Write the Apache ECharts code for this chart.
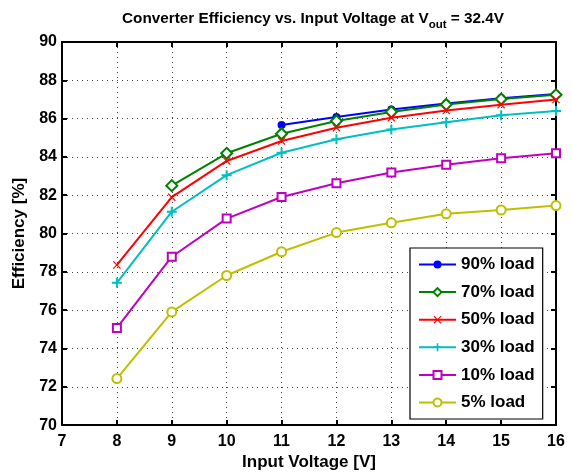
<!DOCTYPE html>
<html><head><meta charset="utf-8">
<script src="https://cdn.jsdelivr.net/npm/echarts@6/dist/echarts.min.js"></script>
<style>html,body{margin:0;padding:0;background:#fff}#c{width:572px;height:476px}</style>
</head><body><div id="c"></div>
<script>
const seriesNames = ['90% load','70% load','50% load','30% load','10% load','5% load'];
const xStart = [11, 9, 8, 8, 8, 8];
const load90 = [85.67, 86.09, 86.48, 86.79, 87.07, 87.29];
const load70 = [82.5, 84.19, 85.21, 85.88, 86.35, 86.74, 87.02, 87.24];
const load50 = [78.36, 81.9, 83.79, 84.83, 85.52, 86.04, 86.42, 86.73, 87.0];
const load30 = [77.43, 81.14, 83.05, 84.22, 84.92, 85.43, 85.81, 86.17, 86.4];
const load10 = [75.07, 78.79, 80.78, 81.91, 82.63, 83.19, 83.59, 83.93, 84.19];
const load5  = [72.43, 75.91, 77.81, 79.05, 80.05, 80.56, 81.03, 81.23, 81.46];
const allValues = [load90, load70, load50, load30, load10, load5];

const colors = ['#0000ff','#008000','#ff0000','#00bfbf','#bf00bf','#bfbf00'];
const xPath = 'path://M1,0L5,4L9,0L10,1L6,5L10,9L9,10L5,6L1,10L0,9L4,5L0,1Z';
const plusPath = 'path://M4,0H6V4H10V6H6V10H4V6H0V4H4Z';
const symbols = ['circle','emptyDiamond',xPath,plusPath,'emptyRect','emptyCircle'];
const symSizes = [8, 11, 8, 10, 8, 9];
const FONT = 'Liberation Sans, Arial, Helvetica, sans-serif';

const chart = echarts.init(document.getElementById('c'));
const series = allValues.map((vals, i) => ({
  name: seriesNames[i],
  type: 'line',
  data: vals.map((v, k) => [xStart[i] + k, v]),
  symbol: symbols[i],
  symbolSize: symSizes[i],
  showAllSymbol: true,
  lineStyle: { color: colors[i], width: 2 },
  itemStyle: { color: colors[i], borderColor: colors[i], borderWidth: (i===1||i===4||i===5)?2:0 },
  emphasis: { disabled: true },
  animation: false,
  z: 3 + i
}));

const axisCommon = {
  type: 'value',
  axisLine: { show: true, onZero: false, lineStyle: { color: '#000', width: 2 } },
  axisTick: { show: true, inside: true, length: 5, lineStyle: { color: '#000', width: 2 } },
};

chart.setOption({
  animation: false,
  backgroundColor: '#fff',
  title: {
    text: '{a|Converter Efficiency vs. Input Voltage at V}{s|out}{a| = 32.4V}',
    left: 308, top: 6, textAlign: 'center',
    textStyle: {
      rich: {
        a: { fontFamily: FONT, fontWeight: 'bold', fontSize: 15.3, color: '#000', lineHeight: 24, verticalAlign: 'top' },
        s: { fontFamily: FONT, fontWeight: 'bold', fontSize: 11.5, color: '#000', lineHeight: 24, verticalAlign: 'top', padding: [8,0,0,0] }
      }
    }
  },
  grid: { left: 62, right: 16, top: 42, bottom: 48, containLabel: false },
  legend: {
    orient: 'vertical', left: 410, top: 248,
    backgroundColor: '#fff', borderColor: '#000', borderWidth: 1.2,
    padding: [8, 8, 8, 8], itemWidth: 37, itemHeight: 10, itemGap: 10.6,
    textStyle: { fontFamily: FONT, fontWeight: 'bold', fontSize: 17, color: '#000' },
    data: seriesNames
  },
  xAxis: [
    Object.assign({}, axisCommon, {
      min: 7, max: 16, interval: 1, position: 'bottom',
      name: 'Input Voltage [V]', nameLocation: 'middle', nameGap: 25,
      nameTextStyle: { fontFamily: FONT, fontWeight: 'bold', fontSize: 17, color: '#000' },
      axisLabel: { fontFamily: FONT, fontWeight: 'bold', fontSize: 16, color: '#000', margin: 8 },
      splitLine: { show: true, lineStyle: { color: '#444', width: 1, type: [1, 4] } }
    }),
    Object.assign({}, axisCommon, {
      min: 7, max: 16, interval: 1, position: 'top',
      axisLabel: { show: false }, splitLine: { show: false }
    })
  ],
  yAxis: [
    Object.assign({}, axisCommon, {
      min: 70, max: 90, interval: 2, position: 'left',
      name: 'Efficiency [%]', nameLocation: 'middle', nameGap: 30,
      nameTextStyle: { fontFamily: FONT, fontWeight: 'bold', fontSize: 17, color: '#000' },
      axisLabel: { fontFamily: FONT, fontWeight: 'bold', fontSize: 16, color: '#000', margin: 5 },
      splitLine: { show: true, lineStyle: { color: '#444', width: 1, type: [1, 4] } }
    }),
    Object.assign({}, axisCommon, {
      min: 70, max: 90, interval: 2, position: 'right',
      axisLabel: { show: false }, splitLine: { show: false }
    })
  ],
  series: series
});
</script></body></html>
